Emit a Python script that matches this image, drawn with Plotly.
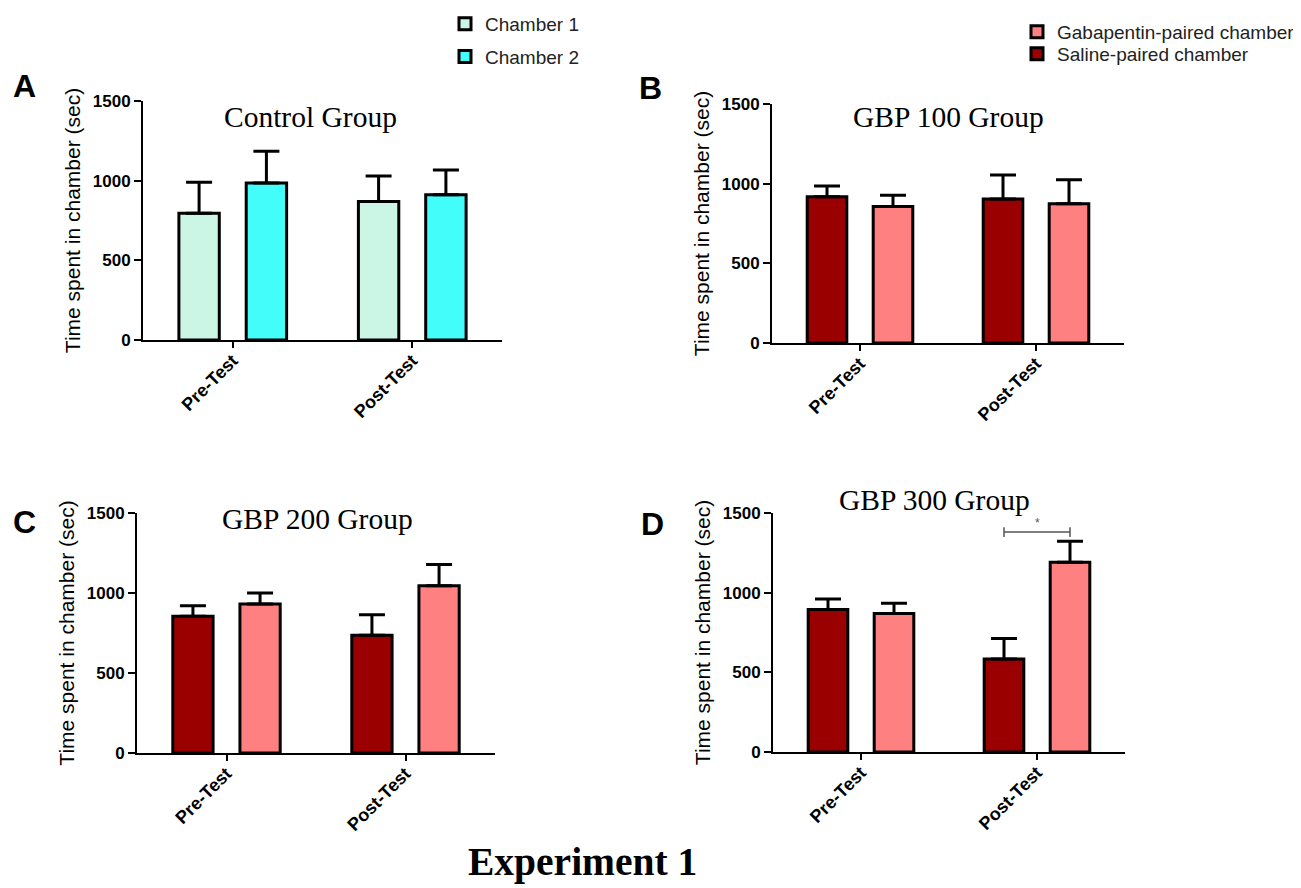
import plotly.graph_objects as go

# ---------------- data ----------------
phases = ["Pre-Test", "Post-Test"]
y_tick_vals = [0, 500, 1000, 1500]

ctrl_ch1 = [795, 870]
ctrl_ch1_err = [195, 160]
ctrl_ch2 = [985, 912]
ctrl_ch2_err = [200, 155]

gbp100_sal = [918, 904]
gbp100_sal_err = [67, 151]
gbp100_gab = [857, 874]
gbp100_gab_err = [70, 151]

gbp200_sal = [854, 736]
gbp200_sal_err = [67, 128]
gbp200_gab = [931, 1046]
gbp200_gab_err = [69, 132]

gbp300_sal = [895, 583]
gbp300_sal_err = [65, 130]
gbp300_gab = [870, 1191]
gbp300_gab_err = [63, 132]

sig_y = 1380          # significance bracket level (panel D, Post-Test)
sig_tick = 30         # half-height of bracket end ticks

# ---------------- style ----------------
C_CH1 = "#cbf6e6"
C_CH2 = "#42fdfa"
C_SAL = "#9b0000"
C_GAB = "#ff8080"
SANS = "Liberation Sans, Arial, sans-serif"
SERIF = "Liberation Serif, Times New Roman, serif"
BARGAP = 0.25
BARGROUPGAP = 0.4

# the page body has an 8px margin; figure is sized/positioned to fill the window
OFF = 8
W, H = 1293, 880


def fx(px):
    return (px - OFF) / W


def fy(py):
    return 1 - (py - OFF) / H


def bar(x, y, err, color, name, xa, ya, legend=None, showlegend=False, rank=None, group=None):
    return go.Bar(
        x=x, y=y, name=name, xaxis=xa, yaxis=ya,
        marker=dict(color=color, line=dict(color="black", width=3)),
        error_y=dict(type="data", array=err, arrayminus=[0] * len(err), symmetric=False,
                     color="black", thickness=3, width=13),
        showlegend=showlegend, legend=legend, legendrank=rank if rank else 1000,
        legendgroup=group,
    )


fig = go.Figure()
fig.add_trace(bar(phases, ctrl_ch1, ctrl_ch1_err, C_CH1, "Chamber 1", "x", "y", "legend", True, 1, "c1"))
fig.add_trace(bar(phases, ctrl_ch2, ctrl_ch2_err, C_CH2, "Chamber 2", "x", "y", "legend", True, 2, "c2"))
fig.add_trace(bar(phases, gbp100_sal, gbp100_sal_err, C_SAL, "Saline-paired chamber", "x2", "y2", "legend3", True))
fig.add_trace(bar(phases, gbp100_gab, gbp100_gab_err, C_GAB, "Gabapentin-paired chamber", "x2", "y2", "legend2", True))
fig.add_trace(bar(phases, gbp200_sal, gbp200_sal_err, C_SAL, "Saline-paired chamber", "x3", "y3"))
fig.add_trace(bar(phases, gbp200_gab, gbp200_gab_err, C_GAB, "Gabapentin-paired chamber", "x3", "y3"))
fig.add_trace(bar(phases, gbp300_sal, gbp300_sal_err, C_SAL, "Saline-paired chamber", "x4", "y4"))
fig.add_trace(bar(phases, gbp300_gab, gbp300_gab_err, C_GAB, "Gabapentin-paired chamber", "x4", "y4"))

panels = {
    # name: (left, right, top, bottom) in window pixels
    "": (143, 502, 101, 340),
    "2": (772, 1124, 104, 343),
    "3": (137, 495, 513, 753),
    "4": (773, 1125, 513, 752),
}

layout_axes = {}
for k, (l, r, t, b) in panels.items():
    layout_axes["xaxis" + k] = dict(
        domain=[fx(l), fx(r)], anchor="y" + k, range=[-0.5, 1.5], type="category",
        showline=True, linecolor="black", linewidth=2, mirror=False,
        ticks="outside", ticklen=6, tickwidth=2, tickcolor="black",
        tickangle=-45, tickfont=dict(family=SANS, size=18, color="black", weight="bold"),
        ticklabelstandoff=-5,
        showgrid=False, zeroline=False, automargin=False,
    )
    layout_axes["yaxis" + k] = dict(
        domain=[fy(b), fy(t)], anchor="x" + k, range=[0, 1500], tickvals=y_tick_vals,
        showline=True, linecolor="black", linewidth=2,
        ticks="outside", ticklen=7, tickwidth=2, tickcolor="black",
        tickfont=dict(family=SANS, size=17, color="black", weight="bold"),
        showgrid=False, zeroline=False, automargin=False,
        title=dict(text="Time spent in chamber (sec)", font=dict(family=SANS, size=21, color="black"),
                   standoff=6),
    )

annotations = []


def ann(text, x, y, size, family, bold=False, color="black"):
    annotations.append(dict(
        text=text, x=fx(x), y=fy(y), xref="paper", yref="paper",
        showarrow=False, xanchor="center", yanchor="middle",
        font=dict(family=family, size=size, color=color, weight="bold" if bold else "normal"),
    ))


ann("Control Group", 310, 117, 29.5, SERIF)
ann("GBP 100 Group", 948, 117, 29.5, SERIF)
ann("GBP 200 Group", 317, 519, 29.5, SERIF)
ann("GBP 300 Group", 934, 500, 29.5, SERIF)
ann("A", 24, 86, 32, SANS, True)
ann("B", 650, 88, 32, SANS, True)
ann("C", 24, 522, 32, SANS, True)
ann("D", 652, 524, 32, SANS, True)
ann("Experiment 1", 582, 862, 39.5, SERIF, True)

# significance bracket, panel D (Post-Test: saline vs gabapentin)
off = (1 - BARGAP) / 4
xl, xr = 1 - off, 1 + off
gray = dict(color="#555555", width=1.5)
shapes = [
    dict(type="line", xref="x4", yref="y4", x0=xl, x1=xr, y0=sig_y, y1=sig_y, line=gray),
    dict(type="line", xref="x4", yref="y4", x0=xl, x1=xl, y0=sig_y - sig_tick, y1=sig_y + sig_tick, line=gray),
    dict(type="line", xref="x4", yref="y4", x0=xr, x1=xr, y0=sig_y - sig_tick, y1=sig_y + sig_tick, line=gray),
]
annotations.append(dict(text="*", x=1, y=sig_y, xref="x4", yref="y4", showarrow=False,
                        yanchor="bottom", font=dict(family=SANS, size=12, color="#555555")))

legend_font_a = dict(family=SANS, size=19, color="#222222")
legend_font_b = dict(family=SANS, size=19, color="#222222")

fig.update_layout(
    width=W, height=H,
    margin=dict(l=0, r=0, t=0, b=0, autoexpand=False),
    paper_bgcolor="white", plot_bgcolor="white",
    barmode="group", bargap=BARGAP, bargroupgap=BARGROUPGAP,
    annotations=annotations, shapes=shapes,
    legend=dict(x=fx(445), y=fy(5), xanchor="left", yanchor="top", font=legend_font_a,
                bgcolor="rgba(0,0,0,0)", tracegroupgap=5, traceorder="grouped"),
    legend2=dict(x=fx(1017), y=fy(32), xanchor="left", yanchor="middle", font=legend_font_b,
                 bgcolor="rgba(0,0,0,0)"),
    legend3=dict(x=fx(1017), y=fy(54), xanchor="left", yanchor="middle", font=legend_font_b,
                 bgcolor="rgba(0,0,0,0)"),
    **layout_axes,
)

fig.write_html("out.html")
